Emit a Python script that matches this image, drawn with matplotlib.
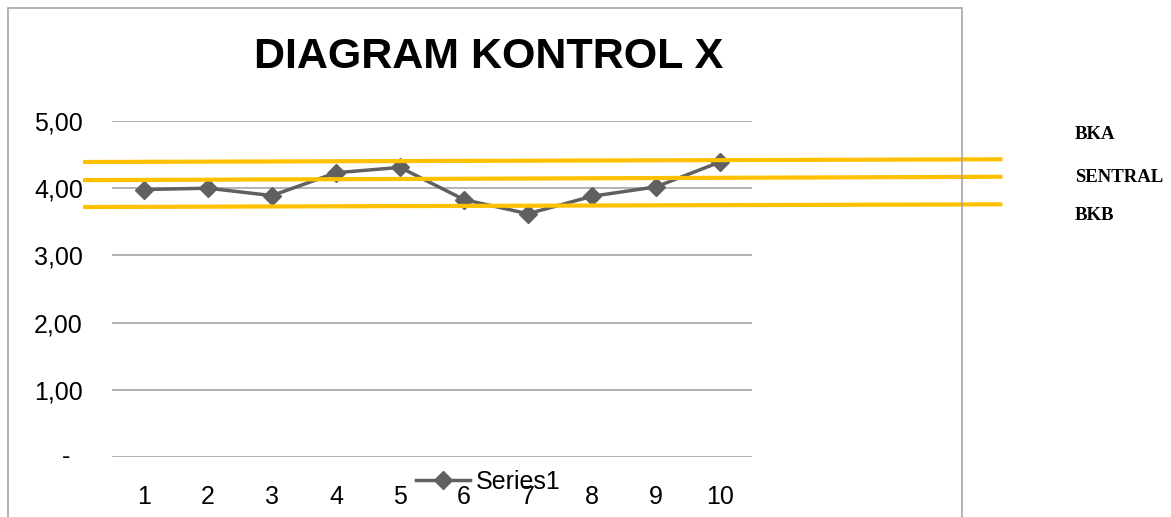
import matplotlib
matplotlib.use("Agg")
import matplotlib.pyplot as plt
from matplotlib.patches import Rectangle

# data
sampel = [1, 2, 3, 4, 5, 6, 7, 8, 9, 10]
rata = [3.98, 4.00, 3.89, 4.23, 4.31, 3.83, 3.62, 3.88, 4.02, 4.39]
y_ticks = [0, 1, 2, 3, 4, 5]
y_labels = ["", "1,00", "2,00", "3,00", "4,00", "5,00"]
# hand drawn control lines (start, end value - they are a little tilted)
bka = [4.39, 4.43]
sentral = [4.12, 4.17]
bkb = [3.72, 3.76]
lim_names = ["BKA", "SENTRAL", "BKB"]

W, H = 1171, 517
fig = plt.figure(figsize=(W / 100, H / 100), dpi=100)
plt.rcParams['font.family'] = ['Liberation Sans', 'DejaVu Sans']

def fx(px):
    return px / W

def fy(py):
    return 1 - py / H

# outer chart frame
fig.add_artist(Rectangle((fx(8), -0.1), fx(962) - fx(8), fy(8) + 0.1,
                         transform=fig.transFigure, fill=False,
                         ec='#a6a6a6', lw=1.2))

ax = fig.add_axes([fx(112), fy(457), fx(752) - fx(112), fy(121) - fy(457)])
ax.set_xlim(0.5, 10.5)
ax.set_ylim(0, 5)
for s in ax.spines.values():
    s.set_visible(False)
ax.set_yticks(y_ticks)
ax.set_yticklabels(y_labels)
ax.set_xticks(sampel)
ax.set_xticklabels([str(s) for s in sampel])
ax.tick_params(axis='both', length=0, labelsize=18)
ax.tick_params(axis='y', pad=21)
ax.tick_params(axis='x', pad=20)
ax.grid(axis='y', color='#a6a6a6', lw=1.2)
ax.set_axisbelow(True)
ax.text(-0.072, 0, "-", transform=ax.get_yaxis_transform(), ha='center',
        va='center', fontsize=18)

line, = ax.plot(sampel, rata, color='#606060', lw=2.5, marker='D', ms=9,
                label='Series1', zorder=3)

# control lines, drawn over the chart like in the sheet
x0, x1 = 0.08, 14.38
for vals in (bka, sentral, bkb):
    ax.plot([x0, x1], vals, color='#ffc000', lw=3, clip_on=False, zorder=4)

for name, py in zip(lim_names, [135, 178, 216]):
    fig.text(fx(1075), fy(py), name, ha='left', va='center', fontsize=13.5,
             fontweight='bold', family=['Liberation Serif', 'DejaVu Serif'])

fig.text(fx(489), fy(57), "DIAGRAM KONTROL X", ha='center', va='center',
         fontsize=31, fontweight='bold')

fig.legend(handles=[line], loc='center left',
           bbox_to_anchor=(fx(416), fy(482)), frameon=False, fontsize=18,
           handlelength=2.15, handletextpad=0.25, borderpad=0,
           borderaxespad=0)

fig.savefig("out.png", dpi=100)
